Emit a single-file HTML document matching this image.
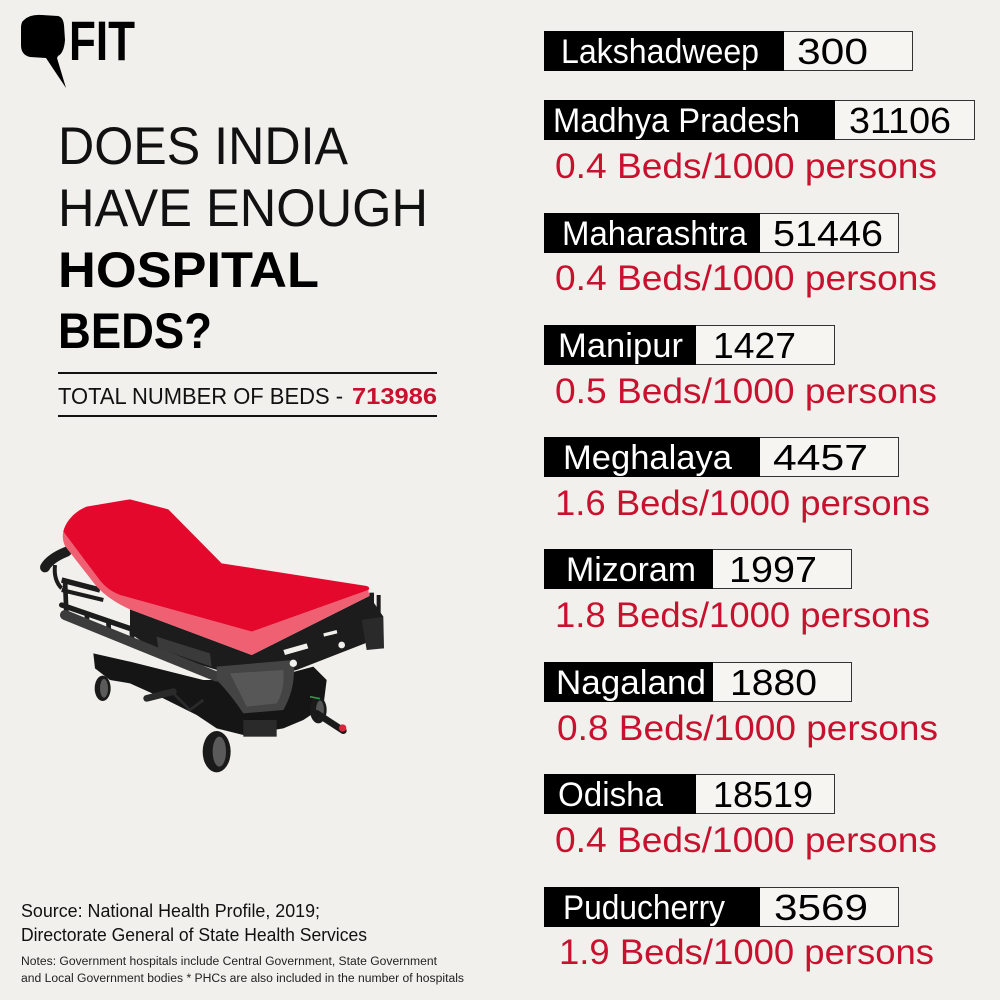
<!DOCTYPE html>
<html><head><meta charset="utf-8"><style>
html,body{margin:0;padding:0;background:#f1f0ec;}
svg{display:block;}
text{font-family:"Liberation Sans",sans-serif;}
</style></head><body>
<svg width="1000" height="1000" viewBox="0 0 1000 1000" xmlns="http://www.w3.org/2000/svg">
<rect width="1000" height="1000" fill="#f1f0ec"/>

<!-- Logo -->
<path d="M24,20 Q30,14 42,15 L58,16 Q63,17 64,25 L65,40 Q64,53 58,56 L57,58 L66,88 L46,58 L30,57 Q21,55 21,45 L21,28 Q21,22 24,20 Z" fill="#000"/>
<text x="69" y="60" font-size="56" font-weight="bold" textLength="66" lengthAdjust="spacingAndGlyphs" fill="#000">FIT</text>

<!-- Title -->
<text x="58" y="164" font-size="53" textLength="290" lengthAdjust="spacingAndGlyphs" fill="#111">DOES INDIA</text>
<text x="58" y="226" font-size="53" textLength="370" lengthAdjust="spacingAndGlyphs" fill="#111">HAVE ENOUGH</text>
<text x="58" y="287" font-size="50" font-weight="bold" textLength="261" lengthAdjust="spacingAndGlyphs" fill="#000">HOSPITAL</text>
<text x="58" y="348" font-size="50" font-weight="bold" textLength="154" lengthAdjust="spacingAndGlyphs" fill="#000">BEDS?</text>
<line x1="58" y1="373" x2="437" y2="373" stroke="#111" stroke-width="2"/>
<line x1="58" y1="416" x2="437" y2="416" stroke="#111" stroke-width="2"/>
<text x="58" y="404" font-size="23" textLength="285" lengthAdjust="spacingAndGlyphs" fill="#111">TOTAL NUMBER OF BEDS -</text>
<text x="352" y="404" font-size="23" font-weight="bold" textLength="85" lengthAdjust="spacingAndGlyphs" fill="#c8112e">713986</text>

<!-- Bed -->
<g transform="translate(30,480) scale(0.33333)">
  <!-- push handle -->
  <path d="M45,262 Q60,235 110,215" stroke="#1c1c1c" stroke-width="30" fill="none" stroke-linecap="round"/>
  <path d="M75,255 Q70,300 95,325" stroke="#1c1c1c" stroke-width="12" fill="none"/>
  <!-- upper rails under headrest -->
  <path d="M95,300 L210,330" stroke="#1c1c1c" stroke-width="16"/>
  <path d="M95,330 L220,360" stroke="#1c1c1c" stroke-width="12"/>
  <!-- side rail -->
  <path d="M95,375 L395,478" stroke="#1c1c1c" stroke-width="16" stroke-linecap="round"/>
  <path d="M105,300 L110,420 M170,395 L172,440 M235,418 L237,465 M305,440 L307,490 M385,470 L387,520" stroke="#1c1c1c" stroke-width="14"/>
  <!-- base -->
  <path d="M190,520 L300,545 L520,600 L700,600 L850,560 L890,600 L880,680 L820,720 L760,745 L640,765 L560,745 L500,705 L400,655 L300,610 L240,600 L195,565 Z" fill="#151515"/>
  <!-- under-mattress frame -->
  <path d="M300,388 L665,525 L1018,348 L1060,410 L1005,490 L800,570 L660,600 L380,515 L300,460 Z" fill="#1c1c1c"/>
  <path d="M105,405 L560,590" stroke="#3c3c3c" stroke-width="30" stroke-linecap="round"/>
  <!-- grey column -->
  <path d="M560,560 L790,540 Q800,620 760,690 L640,700 Q600,640 560,600 Z" fill="#444"/>
  <path d="M600,580 L760,570 Q765,630 740,670 L650,680 Z" fill="#575757"/>
  <path d="M380,470 L540,520 L545,560 L385,505 Z" fill="#3a3a3a"/>
  <circle cx="790" cy="550" r="11" fill="#f1f0ec"/>
  <circle cx="935" cy="495" r="10" fill="#f1f0ec"/>
  <path d="M760,510 L830,490 L835,505 L765,525 Z" fill="#f1f0ec"/>
  <path d="M880,460 L920,450 L922,460 L882,470 Z" fill="#f1f0ec"/>
  <!-- right end -->
  <rect x="1018" y="338" width="14" height="90" fill="#1c1c1c"/>
  <rect x="1040" y="345" width="12" height="80" fill="#1c1c1c"/>
  <path d="M995,420 L1060,410 L1062,505 L1010,510 Z" fill="#2a2a2a"/>
  <!-- mattress -->
  <path d="M100,155 L205,295 Q230,330 270,345 L665,455 L1015,330 L1018,348 L665,525 L300,388 Q240,362 200,320 L105,198 Q95,175 100,155 Z" fill="#ef6072"/>
  <path d="M100,155 C105,130 130,95 170,80 L300,58 L415,88 L575,250 L1010,318 Q1022,322 1015,330 L665,455 L270,345 Q230,330 205,295 Z" fill="#e3082c"/>
  <!-- wheels -->
  <ellipse cx="218" cy="625" rx="24" ry="38" fill="#1a1a1a"/>
  <ellipse cx="222" cy="625" rx="12" ry="28" fill="#5a5a5a"/>
  <ellipse cx="560" cy="815" rx="42" ry="62" fill="#1a1a1a"/>
  <ellipse cx="568" cy="815" rx="20" ry="45" fill="#5a5a5a"/>
  <ellipse cx="865" cy="690" rx="25" ry="40" fill="#1a1a1a"/>
  <ellipse cx="870" cy="690" rx="12" ry="28" fill="#555"/>
  <!-- pedals -->
  <path d="M350,655 L430,635" stroke="#2a2a2a" stroke-width="20" stroke-linecap="round"/>
  <path d="M430,640 L480,690 L520,660" stroke="#2a2a2a" stroke-width="8" fill="none"/>
  <path d="M860,700 L940,752" stroke="#1a1a1a" stroke-width="20" stroke-linecap="round"/>
  <circle cx="938" cy="744" r="11" fill="#d9253a"/>
  <path d="M840,650 L870,656" stroke="#2a9a4a" stroke-width="5"/>
  <rect x="640" y="720" width="100" height="50" fill="#2a2a2a"/>
</g>

<!-- Source -->
<text x="21" y="917" font-size="18.5" textLength="299" lengthAdjust="spacingAndGlyphs" fill="#111">Source: National Health Profile, 2019;</text>
<text x="21" y="941" font-size="18.5" textLength="346" lengthAdjust="spacingAndGlyphs" fill="#111">Directorate General of State Health Services</text>
<text x="21" y="965" font-size="11.5" textLength="416" lengthAdjust="spacingAndGlyphs" fill="#222">Notes: Government hospitals include Central Government, State Government</text>
<text x="21" y="982" font-size="11.5" textLength="443" lengthAdjust="spacingAndGlyphs" fill="#222">and Local Government bodies * PHCs are also included in the number of hospitals</text>

<!-- Boxes -->
<g font-size="34">
  <rect x="783.5" y="31.5" width="129" height="39" fill="#f6f5f2" stroke="#333" stroke-width="1"/>
  <rect x="544" y="31" width="240" height="40" fill="#000"/>
  <text x="561" y="63" fill="#fff" textLength="198" lengthAdjust="spacingAndGlyphs">Lakshadweep</text>
  <text x="797" y="64" font-size="36" fill="#000" textLength="71" lengthAdjust="spacingAndGlyphs">300</text>

  <rect x="834.5" y="100.5" width="140" height="39" fill="#f6f5f2" stroke="#333" stroke-width="1"/>
  <rect x="544" y="100" width="291" height="40" fill="#000"/>
  <text x="553" y="132" fill="#fff" textLength="247" lengthAdjust="spacingAndGlyphs">Madhya Pradesh</text>
  <text x="849" y="133" font-size="36" fill="#000" textLength="102" lengthAdjust="spacingAndGlyphs">31106</text>

  <rect x="759.5" y="213.5" width="139" height="39" fill="#f6f5f2" stroke="#333" stroke-width="1"/>
  <rect x="544" y="213" width="216" height="40" fill="#000"/>
  <text x="562" y="245" fill="#fff" textLength="185" lengthAdjust="spacingAndGlyphs">Maharashtra</text>
  <text x="773" y="246" font-size="36" fill="#000" textLength="110" lengthAdjust="spacingAndGlyphs">51446</text>

  <rect x="695.5" y="325.5" width="139" height="39" fill="#f6f5f2" stroke="#333" stroke-width="1"/>
  <rect x="544" y="325" width="152" height="40" fill="#000"/>
  <text x="558" y="357" fill="#fff" textLength="125" lengthAdjust="spacingAndGlyphs">Manipur</text>
  <text x="713" y="358" font-size="36" fill="#000" textLength="83" lengthAdjust="spacingAndGlyphs">1427</text>

  <rect x="759.5" y="437.5" width="139" height="39" fill="#f6f5f2" stroke="#333" stroke-width="1"/>
  <rect x="544" y="437" width="216" height="40" fill="#000"/>
  <text x="563" y="469" fill="#fff" textLength="169" lengthAdjust="spacingAndGlyphs">Meghalaya</text>
  <text x="773" y="470" font-size="36" fill="#000" textLength="95" lengthAdjust="spacingAndGlyphs">4457</text>

  <rect x="712.5" y="549.5" width="139" height="39" fill="#f6f5f2" stroke="#333" stroke-width="1"/>
  <rect x="544" y="549" width="169" height="40" fill="#000"/>
  <text x="566" y="581" fill="#fff" textLength="130" lengthAdjust="spacingAndGlyphs">Mizoram</text>
  <text x="729" y="582" font-size="36" fill="#000" textLength="88" lengthAdjust="spacingAndGlyphs">1997</text>

  <rect x="712.5" y="662.5" width="139" height="39" fill="#f6f5f2" stroke="#333" stroke-width="1"/>
  <rect x="544" y="662" width="169" height="40" fill="#000"/>
  <text x="556" y="694" fill="#fff" textLength="150" lengthAdjust="spacingAndGlyphs">Nagaland</text>
  <text x="730" y="695" font-size="36" fill="#000" textLength="87" lengthAdjust="spacingAndGlyphs">1880</text>

  <rect x="695.5" y="774.5" width="139" height="39" fill="#f6f5f2" stroke="#333" stroke-width="1"/>
  <rect x="544" y="774" width="152" height="40" fill="#000"/>
  <text x="558" y="806" fill="#fff" textLength="105" lengthAdjust="spacingAndGlyphs">Odisha</text>
  <text x="713" y="807" font-size="36" fill="#000" textLength="100" lengthAdjust="spacingAndGlyphs">18519</text>

  <rect x="759.5" y="887.5" width="139" height="39" fill="#f6f5f2" stroke="#333" stroke-width="1"/>
  <rect x="544" y="887" width="216" height="40" fill="#000"/>
  <text x="563" y="919" fill="#fff" textLength="162" lengthAdjust="spacingAndGlyphs">Puducherry</text>
  <text x="774" y="920" font-size="36" fill="#000" textLength="94" lengthAdjust="spacingAndGlyphs">3569</text>
</g>

<!-- Red rates -->
<g font-size="35" fill="#c8112e">
  <text x="555" y="178" textLength="382" lengthAdjust="spacingAndGlyphs">0.4 Beds/1000 persons</text>
  <text x="555" y="290" textLength="382" lengthAdjust="spacingAndGlyphs">0.4 Beds/1000 persons</text>
  <text x="555" y="403" textLength="382" lengthAdjust="spacingAndGlyphs">0.5 Beds/1000 persons</text>
  <text x="555" y="515" textLength="375" lengthAdjust="spacingAndGlyphs">1.6 Beds/1000 persons</text>
  <text x="555" y="627" textLength="375" lengthAdjust="spacingAndGlyphs">1.8 Beds/1000 persons</text>
  <text x="557" y="740" textLength="381" lengthAdjust="spacingAndGlyphs">0.8 Beds/1000 persons</text>
  <text x="555" y="852" textLength="382" lengthAdjust="spacingAndGlyphs">0.4 Beds/1000 persons</text>
  <text x="559" y="964" textLength="375" lengthAdjust="spacingAndGlyphs">1.9 Beds/1000 persons</text>
</g>
</svg>
</body></html>
